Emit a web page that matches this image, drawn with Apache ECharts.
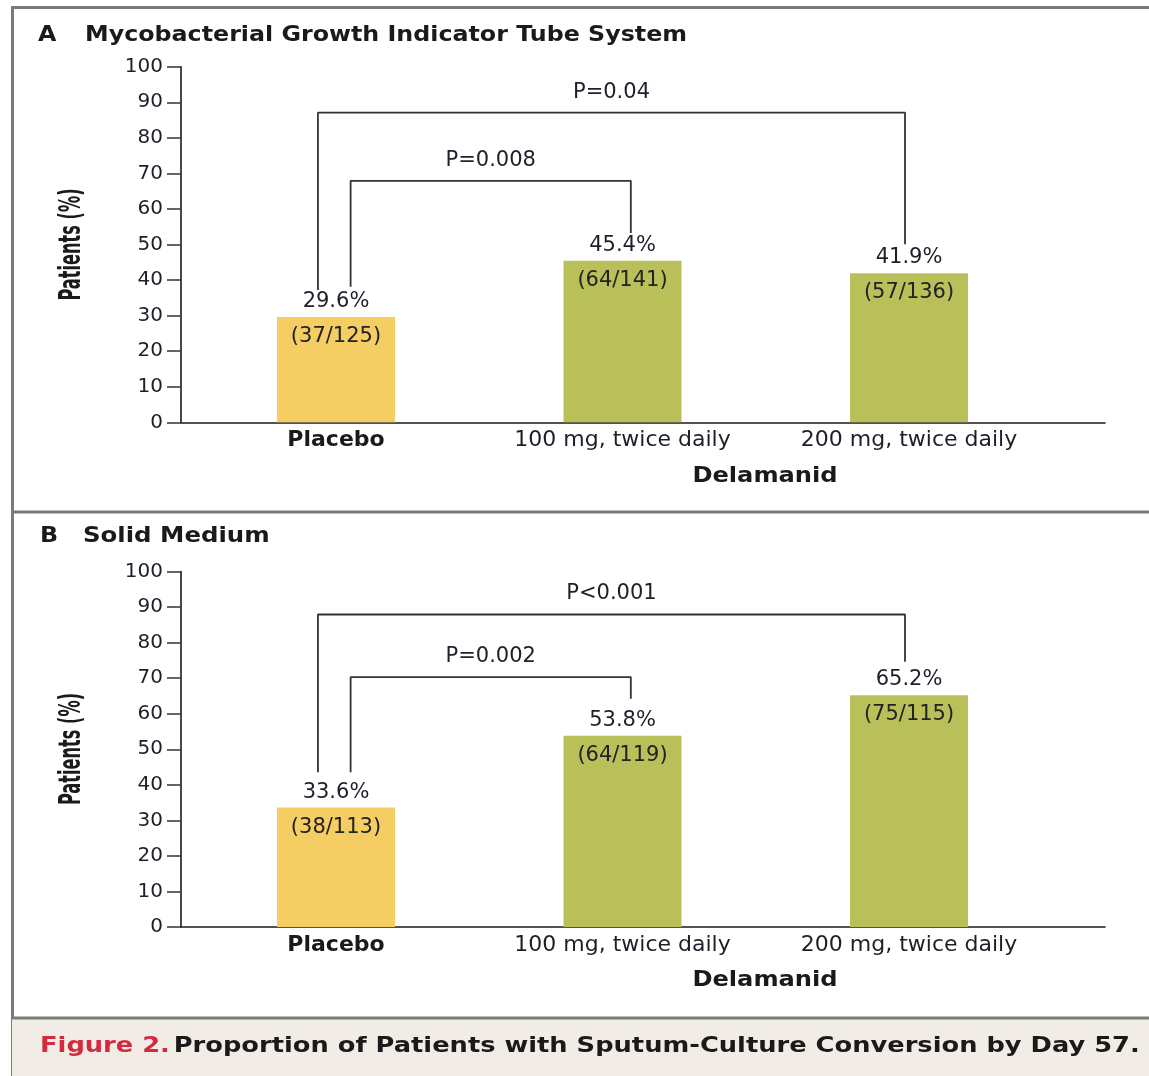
<!DOCTYPE html>
<html>
<head>
<meta charset="utf-8">
<title>Sputum-Culture Conversion by Day 57</title>
<script src="https://cdn.jsdelivr.net/npm/echarts@6/dist/echarts.min.js"></script>
<style>
  html, body { margin: 0; padding: 0; background: #ffffff; }
  #chart { width: 1149px; height: 1076px; }
</style>
</head>
<body>
<div id="chart"></div>
<script>
// ---- data ----
const categories = ['Placebo', '100 mg, twice daily', '200 mg, twice daily'];

// Panel A: Mycobacterial Growth Indicator Tube System
const mgitPercent   = [29.6, 45.4, 41.9];
const mgitConverted = [37, 64, 57];
const mgitTotal     = [125, 141, 136];
const mgitPValues   = ['P=0.04', 'P=0.008'];
// bracket: [fromIndex, toIndex, level, leftFoot, rightFoot]
const mgitBrackets  = [[0, 2, 87.1, 37.2, 50.1], [0, 1, 67.9, 38.1, 53.2]];

// Panel B: Solid Medium
const solidPercent   = [33.6, 53.8, 65.2];
const solidConverted = [38, 64, 75];
const solidTotal     = [113, 119, 115];
const solidPValues   = ['P<0.001', 'P=0.002'];
const solidBrackets  = [[0, 2, 87.9, 43.5, 74.6], [0, 1, 70.3, 43.5, 64.2]];

// ---- look ----
const FONT = 'DejaVu Sans';
const TEXT = '#1f1f2a';
const INK = '#1a1a1a';
const PLACEBO_COLOR = '#F4CE63';
const DELAMANID_COLOR = '#B9C05A';
const FRAME = '#7a7a7a';

// category centres sit at 0, 1, 2 on a value axis that starts a little left of the first bar
const X_MIN = -0.541;
const X_MAX = 2.684;
// horizontal nudges of the bracket feet (outer bracket / inner bracket)
const FOOT_NUDGE = [[-0.063, -0.014], [0.051, 0.029]];

const grids = [
  { left: 181, top: 66.7, width: 924, height: 355.6 },
  { left: 181, top: 571.5, width: 924, height: 355.5 }
];

function xAxisFor(gi) {
  return {
    type: 'value', gridIndex: gi, min: X_MIN, max: X_MAX,
    axisLine: { show: true, onZero: false, lineStyle: { color: INK, width: 1.6 } },
    axisTick: { show: false },
    splitLine: { show: false },
    axisLabel: {
      customValues: [0, 1, 2],
      margin: 7,
      fontFamily: FONT, fontSize: 22, color: TEXT,
      formatter: v => v === 0 ? '{b|' + categories[0] + '}' : categories[v],
      rich: { b: { fontFamily: FONT, fontSize: 22, fontWeight: 'bold', color: INK } }
    }
  };
}

function yAxisFor(gi) {
  return {
    type: 'value', gridIndex: gi, min: 0, max: 100, interval: 10,
    axisLine: { show: true, onZero: false, lineStyle: { color: INK, width: 1.6 } },
    axisTick: { show: true, length: 14, lineStyle: { color: '#333', width: 1.5 } },
    splitLine: { show: false },
    axisLabel: { margin: 18, fontFamily: FONT, fontSize: 20, color: TEXT }
  };
}

function panelSeries(gi, pct, conv, total, brackets, pvals) {
  const barData = pct.map((v, i) => ({
    value: [i, v],
    itemStyle: { color: i === 0 ? PLACEBO_COLOR : DELAMANID_COLOR }
  }));
  const out = [];
  // bars with the n/N count just inside the top
  out.push({
    type: 'bar', xAxisIndex: gi, yAxisIndex: gi, barWidth: 118, silent: true,
    data: barData,
    label: {
      show: true, position: 'insideTop', distance: 9,
      fontFamily: FONT, fontSize: 21, color: '#222',
      formatter: p => '(' + conv[p.dataIndex] + '/' + total[p.dataIndex] + ')'
    }
  });
  // percentage above each bar
  out.push({
    type: 'bar', xAxisIndex: gi, yAxisIndex: gi, barWidth: 118, barGap: '-100%', silent: true,
    data: pct.map((v, i) => [i, v]),
    itemStyle: { color: 'rgba(0,0,0,0)' },
    label: {
      show: true, position: 'top', distance: 5,
      fontFamily: FONT, fontSize: 21, color: TEXT,
      formatter: p => p.value[1] + '%'
    }
  });
  // significance brackets
  brackets.forEach((b, k) => {
    const [from, to, level, footL, footR] = b;
    const xl = from + FOOT_NUDGE[k][0];
    const xr = to + FOOT_NUDGE[k][1];
    out.push({
      type: 'line', xAxisIndex: gi, yAxisIndex: gi, silent: true,
      symbol: 'none', z: 3,
      lineStyle: { color: '#333', width: 1.8 },
      data: [[xl, footL], [xl, level], [xr, level], [xr, footR]]
    });
    out.push({
      type: 'scatter', xAxisIndex: gi, yAxisIndex: gi, silent: true,
      symbolSize: 0,
      itemStyle: { opacity: 1 },
      data: [[(xl + xr) / 2, level]],
      label: {
        show: true, position: 'top', distance: 10,
        fontFamily: FONT, fontSize: 21, color: TEXT,
        formatter: () => pvals[k]
      }
    });
  });
  return out;
}

function headText(x, y, text, opts, sx) {
  return {
    type: 'text', x: x, y: y, silent: true, scaleX: sx || 1,
    style: Object.assign({
      text: text, fontFamily: FONT, fontSize: 22, fontWeight: 'bold',
      fill: INK, verticalAlign: 'middle', align: 'left'
    }, opts || {})
  };
}

// rotated y-axis caption in a tall condensed face
function yCaption(cy) {
  return {
    type: 'text', x: 72, y: cy, rotation: Math.PI / 2, scaleX: 0.6, silent: true,
    style: {
      text: 'Patients (%)', fontFamily: '"DejaVu Sans Condensed", "DejaVu Sans", sans-serif',
      fontWeight: 'bold', fontSize: 30, fill: INK, align: 'center', verticalAlign: 'middle'
    }
  };
}

const graphic = [
  // frame
  { type: 'rect', silent: true, shape: { x: 11, y: 6, width: 1138, height: 3 }, style: { fill: FRAME } },
  { type: 'rect', silent: true, shape: { x: 11, y: 6, width: 3, height: 1070 }, style: { fill: FRAME } },
  { type: 'rect', silent: true, shape: { x: 11, y: 510.5, width: 1138, height: 3 }, style: { fill: FRAME } },
  { type: 'rect', silent: true, shape: { x: 12, y: 1018, width: 1137, height: 58 }, style: { fill: '#F2ECE6' } },
  { type: 'rect', silent: true, shape: { x: 11, y: 1016.5, width: 1138, height: 3 }, style: { fill: FRAME } },
  // panel headings
  headText(38, 35, 'A', null, 1.08),
  headText(85, 35, 'Mycobacterial Growth Indicator Tube System', null, 1.08),
  headText(40, 536, 'B', null, 1.08),
  headText(83, 536, 'Solid Medium', null, 1.11),
  // y-axis captions
  yCaption(244.5),
  yCaption(749),
  // grouping label under the delamanid doses
  headText(765, 477, 'Delamanid', { align: 'center', fontSize: 21 }, 1.15),
  headText(765, 981, 'Delamanid', { align: 'center', fontSize: 21 }, 1.15),
  // figure caption
  {
    type: 'text', x: 40, y: 1046, silent: true, scaleX: 1.169,
    style: {
      text: '{r|Figure 2.} {k|Proportion of Patients with Sputum-Culture Conversion by Day 57.}',
      verticalAlign: 'middle',
      rich: {
        r: { fontFamily: FONT, fontSize: 22, fontWeight: 'bold', fill: '#D42A3E' },
        k: { fontFamily: FONT, fontSize: 22, fontWeight: 'bold', fill: INK }
      }
    }
  }
];

const chart = echarts.init(document.getElementById('chart'), null, { renderer: 'canvas' });
chart.setOption({
  animation: false,
  backgroundColor: '#ffffff',
  grid: grids,
  xAxis: [xAxisFor(0), xAxisFor(1)],
  yAxis: [yAxisFor(0), yAxisFor(1)],
  series: [].concat(
    panelSeries(0, mgitPercent, mgitConverted, mgitTotal, mgitBrackets, mgitPValues),
    panelSeries(1, solidPercent, solidConverted, solidTotal, solidBrackets, solidPValues)
  ),
  graphic: graphic
});
</script>
</body>
</html>
